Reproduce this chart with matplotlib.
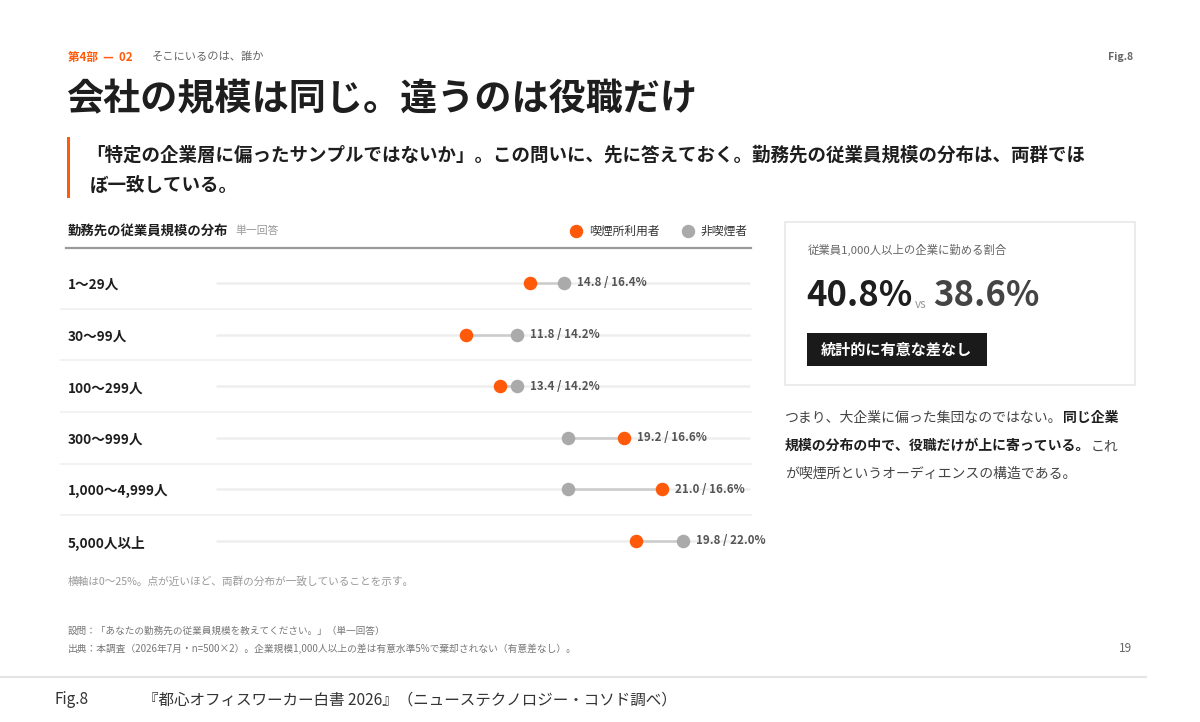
import matplotlib
matplotlib.use("Agg")
import matplotlib.pyplot as plt
from matplotlib.patches import Rectangle

plt.rcParams['font.family'] = ['Noto Sans CJK JP', 'DejaVu Sans']

# ── data ─────────────────────────────────────────────────────────────────────
categories = ["1〜29人", "30〜99人", "100〜299人", "300〜999人", "1,000〜4,999人", "5,000人以上"]
smokers = [14.8, 11.8, 13.4, 19.2, 21.0, 19.8]       # 喫煙所利用者
non_smokers = [16.4, 14.2, 14.2, 16.6, 16.6, 22.0]   # 非喫煙者
x_max = 25
share_smokers = "40.8%"
share_non = "38.6%"

ORANGE = "#FF5A0A"
GREY = "#AAAAAA"
DARK = "#1E1E1E"
MID = "#666666"
LIGHT = "#999999"

W, H = 1200, 722
fig = plt.figure(figsize=(W / 100, H / 100), dpi=100)
fig.patch.set_facecolor("white")

# overlay axes in pixel coordinates for page furniture
bg = fig.add_axes([0, 0, 1, 1])
bg.set_xlim(0, W)
bg.set_ylim(H, 0)
bg.axis("off")


def px_axes(left, top, right, bottom):
    return fig.add_axes([left / W, 1 - bottom / H, (right - left) / W, (bottom - top) / H])


# ── header ───────────────────────────────────────────────────────────────────
bg.text(68, 57, "第4部  —  02", color=ORANGE, fontsize=8.3, fontweight="bold", va="center")
bg.text(152, 57, "そこにいるのは、誰か", color=MID, fontsize=8.1, va="center")
bg.text(1133, 57, "Fig.8", color=MID, fontsize=7.5, fontweight="bold", va="center", ha="right")

bg.text(66, 100, "会社の規模は同じ。違うのは役職だけ", color=DARK, fontsize=26.7,
        fontweight="bold", va="center")

bg.add_patch(Rectangle((67, 137), 3, 61, color=ORANGE, lw=0))
bg.text(86, 155, "「特定の企業層に偏ったサンプルではないか」。この問いに、先に答えておく。勤務先の従業員規模の分布は、両群でほ",
        color=DARK, fontsize=13.3, fontweight="bold", va="center")
bg.text(90, 185, "ぼ一致している。", color=DARK, fontsize=13.3, fontweight="bold", va="center")

# ── chart header & legend ────────────────────────────────────────────────────
bg.text(68, 231, "勤務先の従業員規模の分布", color=DARK, fontsize=9.6, fontweight="bold", va="center")
bg.text(235, 231, "単一回答", color=LIGHT, fontsize=7.8, va="center")
bg.scatter([576], [231], s=75, color=ORANGE, zorder=3)
bg.text(589, 231, "喫煙所利用者", color="#333333", fontsize=8.5, va="center")
bg.scatter([688], [231], s=75, color=GREY, zorder=3)
bg.text(701, 231, "非喫煙者", color="#333333", fontsize=8.5, va="center")
bg.plot([66, 751], [248, 248], color="#9a9a9a", lw=1.6)

# ── dumbbell chart ───────────────────────────────────────────────────────────
# 0% sits at x=215.5 px, 25% at x=747 px
px_per_pct = (747 - 215.5) / x_max
ax_left, ax_right = 60, 752
ax = px_axes(ax_left, 257.2, ax_right, 566.8)
ax.set_xlim((ax_left - 215.5) / px_per_pct, (ax_right - 215.5) / px_per_pct)
ax.set_ylim(len(categories) - 0.5, -0.5)
ax.axis("off")
ax.patch.set_alpha(0)

for i, (cat, s, n) in enumerate(zip(categories, smokers, non_smokers)):
    # track 0..25
    ax.plot([0, x_max + 0.15], [i, i], color="#EEEEEE", lw=1.8, zorder=1, solid_capstyle="butt")
    if i < len(categories) - 1:
        ax.axhline(i + 0.5, color="#F0F0F0", lw=1.2, zorder=0)
    ax.plot([s, n], [i, i], color="#CCCCCC", lw=1.8, zorder=2)
    ax.scatter([s], [i], s=95, color=ORANGE, zorder=4, linewidths=0)
    ax.scatter([n], [i], s=95, color=GREY, zorder=3, linewidths=0)
    ax.annotate(f"{s:.1f} / {n:.1f}%", xy=(max(s, n), i), xytext=(13, 0),
                textcoords="offset pixels", va="center", ha="left",
                fontsize=8.3, fontweight="bold", color="#555555")
    bg.text(68, 285 + i * 51.6, cat, color=DARK, fontsize=9.8, fontweight="bold", va="center")

bg.text(68, 581, "横軸は0〜25%。点が近いほど、両群の分布が一致していることを示す。",
        color=LIGHT, fontsize=7.7, va="center")

# ── right panel ──────────────────────────────────────────────────────────────
bg.add_patch(Rectangle((785, 222), 350, 163, facecolor="white", edgecolor="#E8E8E8", lw=1.2))
bg.text(808, 250, "従業員1,000人以上の企業に勤める割合", color=MID, fontsize=8.2, va="center")
t1 = bg.text(806, 296, share_smokers, color=DARK, fontsize=25, fontweight="bold", va="center")
fig.canvas.draw()
r = fig.canvas.get_renderer()
x_after = t1.get_window_extent(r).x1
bg.text(x_after + 3, 304, "vs", color=LIGHT, fontsize=8.5, va="center")
bg.text(x_after + 21, 296, share_non, color="#444444", fontsize=25, fontweight="bold", va="center")

bg.add_patch(Rectangle((807, 333), 180, 33, color="#1A1A1A", lw=0))
bg.text(821, 350, "統計的に有意な差なし", color="white", fontsize=10.9, fontweight="bold", va="center")


def rich_line(x, y, parts, size=10.0):
    """Draw a line made of (text, bold) segments one after another."""
    for txt, bold in parts:
        t = bg.text(x, y, txt, fontsize=size, va="center",
                    color=DARK if bold else "#444444",
                    fontweight="bold" if bold else "normal")
        fig.canvas.draw()
        x = t.get_window_extent(fig.canvas.get_renderer()).x1


rich_line(785, 418, [("つまり、大企業に偏った集団なのではない。", False), ("同じ企業", True)])
rich_line(785, 446, [("規模の分布の中で、役職だけが上に寄っている。", True), ("これ", False)])
rich_line(785, 474, [("が喫煙所というオーディエンスの構造である。", False)])

# ── footer ───────────────────────────────────────────────────────────────────
bg.text(68, 631, "設問：「あなたの勤務先の従業員規模を教えてください。」（単一回答）",
        color="#777777", fontsize=6.9, va="center")
bg.text(68, 649, "出典：本調査（2026年7月・n=500×2）。企業規模1,000人以上の差は有意水準5%で棄却されない（有意差なし）。",
        color="#777777", fontsize=7.0, va="center")
bg.text(1132, 649, "19", color=MID, fontsize=8.5, va="center", ha="right")

bg.plot([0, 1146], [677, 677], color="#E4E4E4", lw=1.5)
bg.text(55, 700, "Fig.8", color="#333333", fontsize=11, va="center")
bg.text(143, 700, "『都心オフィスワーカー白書 2026』（ニューステクノロジー・コソド調べ）",
        color="#333333", fontsize=11.2, va="center")

fig.savefig("out.png", dpi=100, facecolor="white")
